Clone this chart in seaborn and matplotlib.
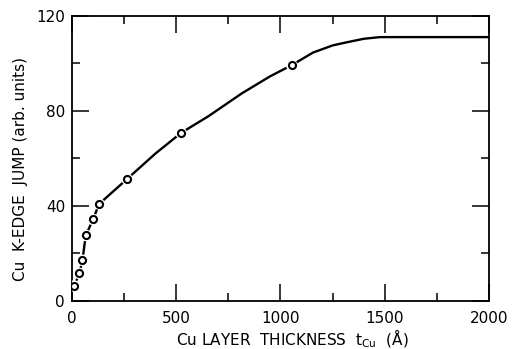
import matplotlib
matplotlib.use("Agg")
import matplotlib.pyplot as plt
import seaborn as sns
import pandas as pd
from matplotlib.ticker import MultipleLocator

# measured points: Cu layer thickness (Å) vs Cu K-edge jump (arb. units)
thickness = [11, 35, 50, 66, 101, 130, 264, 523, 1054]
edge_jump = [6.3, 11.6, 17.1, 27.6, 34.3, 40.8, 51.3, 70.7, 99.2]

# hand-drawn guide curve
curve_x = [11, 35, 50, 66, 101, 130, 264, 400, 523, 654, 814, 950, 1054,
           1156, 1250, 1317, 1400, 1477, 1550, 2000]
curve_y = [6.3, 11.6, 17.1, 27.6, 34.3, 40.8, 51.3, 62.0, 70.7, 77.7, 87.3,
           94.5, 99.2, 104.5, 107.5, 108.8, 110.3, 111.0, 111.0, 111.0]

x_ticks = [0, 500, 1000, 1500, 2000]
y_ticks = [0, 40, 80, 120]

pts = pd.DataFrame({"t": thickness, "j": edge_jump})
crv = pd.DataFrame({"t": curve_x, "j": curve_y})

sns.set_style("ticks")
plt.rcParams["font.family"] = ["DejaVu Sans"]
plt.rcParams.update({"text.color": "black", "axes.labelcolor": "black",
                     "xtick.color": "black", "ytick.color": "black",
                     "xtick.labelcolor": "black", "ytick.labelcolor": "black"})

fig = plt.figure(figsize=(5.16, 3.49), dpi=100)
ax = fig.add_axes([0.1395, 0.1375, 0.8082, 0.8175])

sns.lineplot(data=crv, x="t", y="j", sort=False, color="black", lw=1.7,
             ax=ax, zorder=2)
sns.scatterplot(data=pts, x="t", y="j", s=70, color="white", edgecolor="none",
                ax=ax, zorder=3)
sns.scatterplot(data=pts, x="t", y="j", s=26, color="white", edgecolor="black",
                linewidth=1.5, ax=ax, zorder=4)

ax.set_xlim(0, 2000)
ax.set_ylim(0, 120)
ax.set_xticks(x_ticks)
ax.set_yticks(y_ticks)
ax.xaxis.set_minor_locator(MultipleLocator(250))
ax.yaxis.set_minor_locator(MultipleLocator(20))

for s in ax.spines.values():
    s.set_visible(True)
    s.set_linewidth(1.3)
    s.set_color("black")

ax.tick_params(which="both", direction="in", top=True, right=True,
               color="black", width=1.1, labelcolor="black")
ax.tick_params(which="major", length=12, labelsize=11, pad=5)
ax.tick_params(which="minor", length=5.5)
ax.tick_params(axis="x", which="major", pad=7)

ax.set_xlabel(r"Cu LAYER  THICKNESS  $\mathrm{t}_{\mathrm{Cu}}$  (Å)",
              fontsize=11, x=0.529, labelpad=1, color="black")
ax.set_ylabel("Cu  K-EDGE  JUMP (arb. units)", fontsize=11, y=0.463,
              labelpad=6, color="black")

fig.savefig("out.png", dpi=100)
